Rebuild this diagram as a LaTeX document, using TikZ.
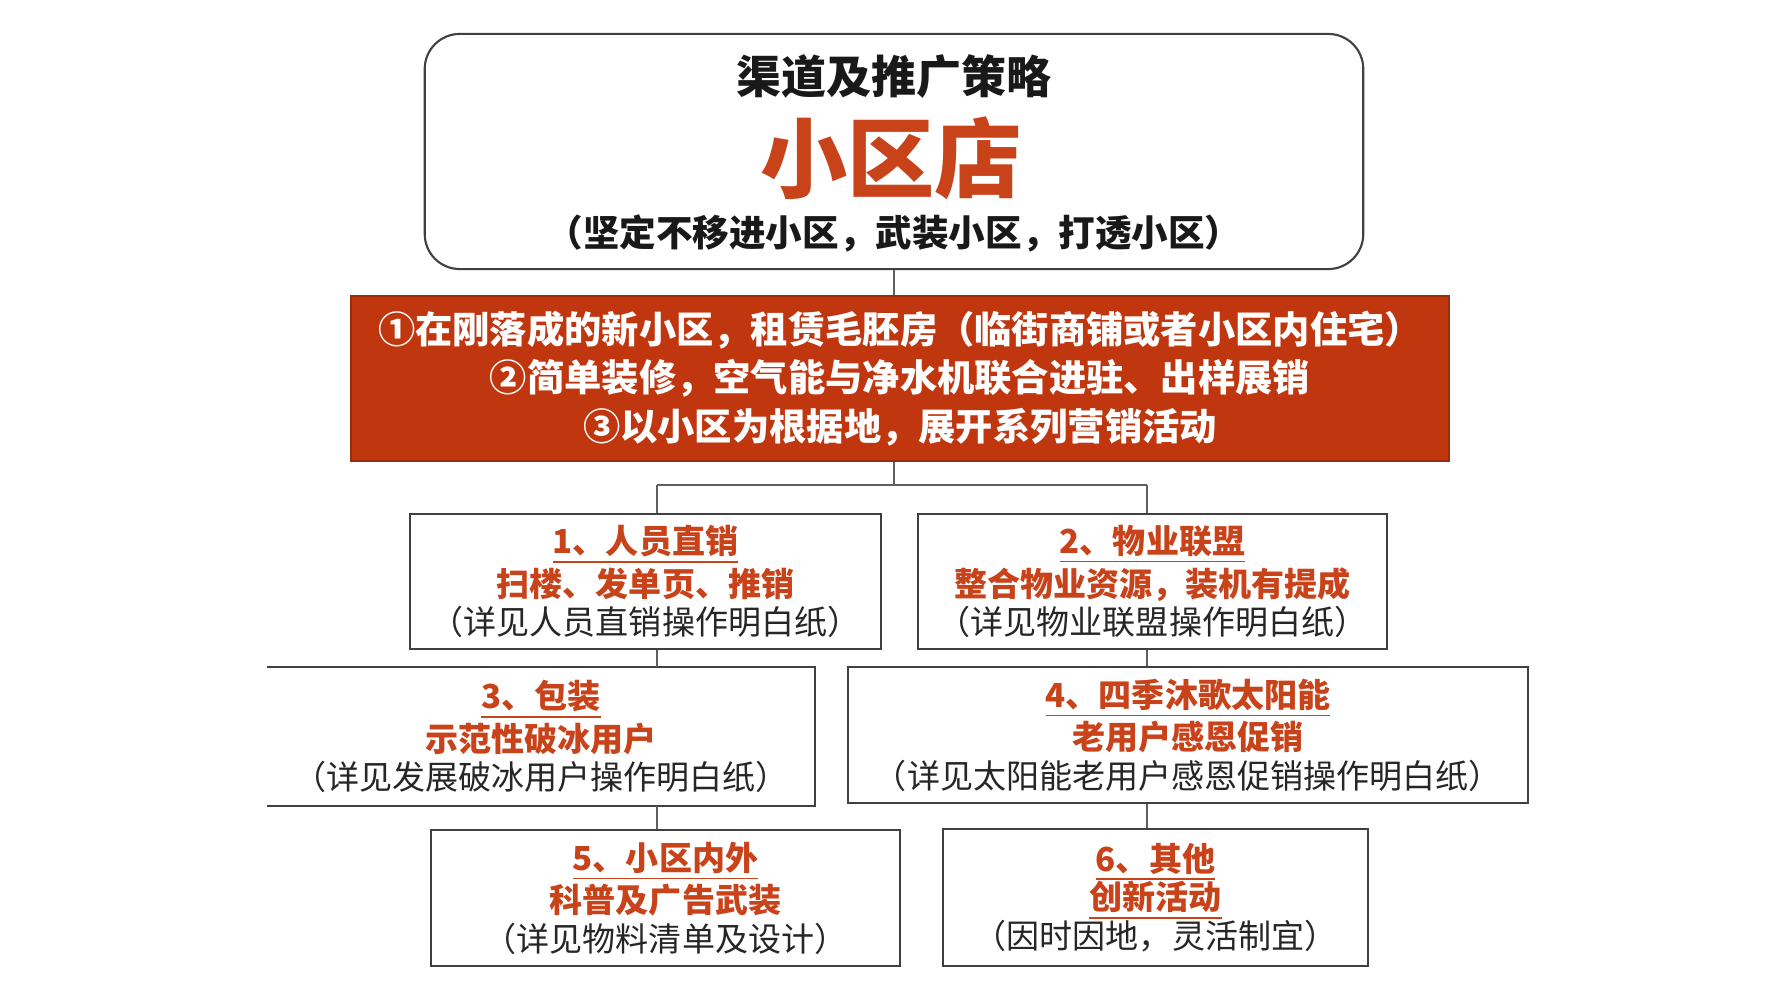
\documentclass[tikz,border=0pt]{standalone}
\usepackage{fontspec}
\newfontfamily\cjk{Noto Sans CJK SC}
\usetikzlibrary{positioning}
\definecolor{boxred}{RGB}{192,54,14}
\definecolor{txtred}{RGB}{200,66,26}
\definecolor{edgegray}{RGB}{64,64,64}
\definecolor{linegray}{RGB}{95,95,95}
\newcommand\boxhead[1]{\textcolor{txtred}{\bfseries\underline{#1}}}
\newcommand\boxline[1]{\textcolor{txtred}{\bfseries #1}}

\begin{document}
\begin{tikzpicture}[x=0.01cm,y=-0.01cm,
 plan/.style={draw=edgegray,line width=0.6pt,align=center,inner sep=0pt,text=black!85,font=\cjk\fontsize{9.4}{11}\selectfont},
 redbox/.style={fill=boxred,draw=boxred!80!black,line width=0.5pt,align=center,inner sep=0pt,text=white,font=\cjk\bfseries\fontsize{10.6}{13.7}\selectfont},
 link/.style={draw=linegray,line width=0.45pt}]
 \useasboundingbox[fill=white] (0,0) rectangle (1778,1000);

 \node[plan,rounded corners=0.35cm,minimum width=9.38cm,minimum height=2.35cm] (top) at (894,151.5) {};
 \node[font=\cjk\bfseries\fontsize{12.8}{14}\selectfont,text=black!90] (ttl) at (894,77) {渠道及推广策略};
 \node[font=\cjk\bfseries\fontsize{24.8}{28}\selectfont,text=txtred] (shop) at (891,158) {小区店};
 \node[font=\cjk\bfseries\fontsize{10.4}{12}\selectfont,text=black!90] (motto) at (894,233) {（坚定不移进小区，武装小区，打透小区）};

 \node[redbox,minimum width=10.98cm,minimum height=1.65cm] (steps) at (900,378.5)
  {①在刚落成的新小区，租赁毛胚房（临街商铺或者小区内住宅）\\
   ②简单装修，空气能与净水机联合进驻、出样展销\\
   ③以小区为根据地，展开系列营销活动};

 \node[plan,minimum width=4.71cm,minimum height=1.35cm] (b1) at (645.5,581.5)
  {\boxhead{1、人员直销}\\ \boxline{扫楼、发单页、推销}\\ （详见人员直销操作明白纸）};
 \node[plan,minimum width=4.69cm,minimum height=1.35cm] (b2) at (1152.5,581.5)
  {\boxhead{2、物业联盟}\\ \boxline{整合物业资源，装机有提成}\\ （详见物业联盟操作明白纸）};
 \node[plan,draw=none,minimum width=5.46cm,minimum height=1.37cm] (b3) at (541,736.5)
  {\boxhead{3、包装}\\ \boxline{示范性破冰用户}\\ （详见发展破冰用户操作明白纸）};
 \draw[edgegray,line width=0.6pt] (b3.north west) -- (b3.north east) -- (b3.south east) -- (b3.south west);
 \node[plan,minimum width=6.8cm,minimum height=1.36cm] (b4) at (1188,735)
  {\boxhead{4、四季沐歌太阳能}\\ \boxline{老用户感恩促销}\\ （详见太阳能老用户感恩促销操作明白纸）};
 \node[plan,minimum width=4.69cm,minimum height=1.36cm] (b5) at (665.5,898)
  {\boxhead{5、小区内外}\\ \boxline{科普及广告武装}\\ （详见物料清单及设计）};
 \node[plan,minimum width=4.25cm,minimum height=1.37cm] (b6) at (1155.5,897.5)
  {\boxhead{6、其他}\\ \boxhead{创新活动}\\ （因时因地，灵活制宜）};

 \coordinate (l) at (657,485);
 \coordinate (r) at (1147,485);
 \draw[link] (top.south) -- (top.south |- steps.north);
 \draw[link] (top.south |- steps.south) -- (top.south |- l);
 \draw[link] (l) -- (r);
 \draw[link] (l) -- (l |- b1.north);
 \draw[link] (r) -- (r |- b2.north);
 \draw[link] (l |- b1.south) -- (l |- b3.north);
 \draw[link] (r |- b2.south) -- (r |- b4.north);
 \draw[link] (l |- b3.south) -- (l |- b5.north);
 \draw[link] (r |- b4.south) -- (r |- b6.north);
\end{tikzpicture}
\end{document}
